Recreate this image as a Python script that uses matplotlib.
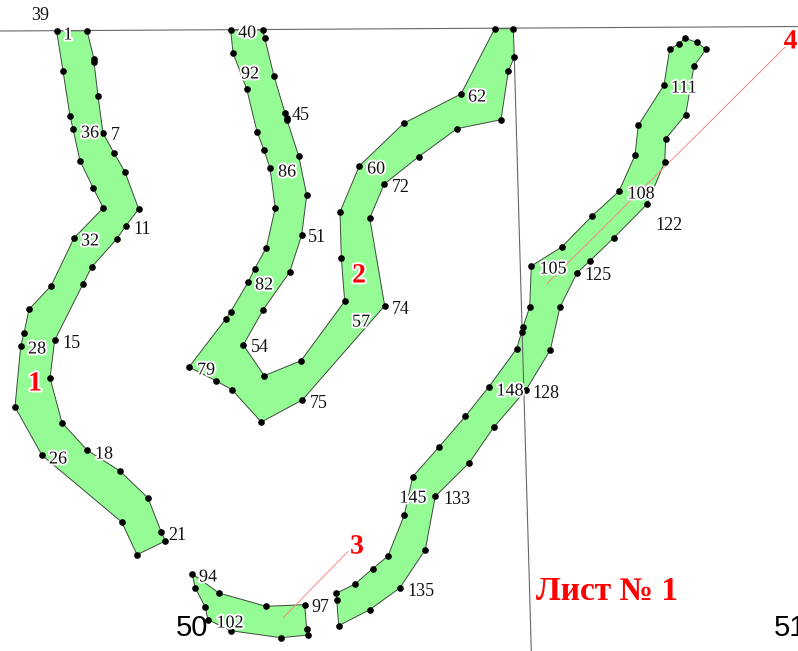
#!/usr/bin/env python3
"""Cadastral sheet no. 1: four green plots with numbered boundary points."""

import matplotlib
matplotlib.use("Agg")
import matplotlib.pyplot as plt
import matplotlib.patheffects as pe

# vertices in sheet coordinates
plot1 = [(56.5, 30.7), (87, 30.7), (94, 59), (94, 62), (98, 96), (103, 133), (114, 153),
         (125, 172), (138.7, 209), (125.7, 226), (116.7, 239), (91.7, 267), (83, 284),
         (54.7, 340.3), (50, 378), (62, 422.7), (87.3, 450.3), (120, 471), (148, 498),
         (161.3, 532), (165.3, 541), (137, 554.7), (121.7, 522), (42, 455.3), (15, 407),
         (20.7, 346), (24, 333.3), (29, 309.3), (51, 286), (74, 238), (103.3, 208),
         (93, 187.7), (80, 160.7), (73, 129), (70, 116), (63, 71)]
plot2 = [(230.7, 30), (262.7, 30), (264.7, 38), (274, 76), (285, 113), (287, 118), (287, 120),
         (298.7, 156), (306.7, 195), (301.7, 235), (289.7, 272), (263, 310), (243.3, 345),
         (264.3, 375.7), (301, 360.7), (344.7, 301.3), (341.3, 257.7), (340, 212),
         (359.3, 166), (403.7, 123.3), (461, 94), (494.7, 28.7), (513.3, 28.7),
         (514.3, 57.3), (508.3, 71), (501, 119.7), (457, 128.7), (418.7, 156.7),
         (384.3, 184), (369.7, 218), (384.7, 305.7), (302.3, 400), (261.3, 422),
         (232, 389.7), (216.3, 381), (189, 367), (226, 318.7), (230.7, 311.7), (248, 282.3),
         (254.7, 268.7), (266.3, 247.7), (275.3, 208), (270, 168), (264, 150), (257, 131.7),
         (246.7, 89), (233, 53)]
plot3 = [(192, 573.7), (195.3, 588), (205, 606.7), (208, 619.7), (230.7, 630.7), (281, 637.7),
         (308, 635), (306.7, 629), (304.7, 604.7), (266, 606.3), (219, 593)]
plot4 = [(338.7, 625.7), (336.7, 600), (336.3, 593.3), (355, 584), (372.7, 568.7), (388, 556),
         (404.3, 515), (412.7, 476.7), (438.7, 447.3), (465.3, 416.3), (488.7, 387),
         (516.7, 348.7), (521.7, 331.7), (523, 327), (529.7, 307), (531.3, 266),
         (561.7, 247), (592, 216), (619, 191.3), (635, 155.3), (638.3, 125.3), (664, 85),
         (669.7, 49), (679, 43.7), (685, 38.3), (696.7, 42.3), (706, 49.3), (694, 66),
         (685.7, 114.7), (665.7, 138.7), (664.7, 162), (647.3, 204), (613.7, 238),
         (589.7, 261), (577, 273), (560, 307), (550.3, 350), (526, 390), (493.7, 427.3),
         (469.3, 462.7), (435.3, 496.3), (425.3, 549.7), (399.7, 588), (369.7, 609.7)]
plots = [plot1, plot2, plot3, plot4]

# sheet boundaries and the leader lines to the plot numbers
sheet_top = [(0, 31), (798, 26.5)]
sheet_right = [(514.3, 57.3), (531.3, 651)]
leader3 = [(283.3, 617.7), (347.7, 551.7)]
leader4 = [(547, 283.7), (785, 47.3)]

# point numbers lying on the green get a white halo
halo_labels = [("1", 68, 35), ("36", 90, 133), ("32", 90, 241), ("28", 37, 349), ("26", 58, 459),
               ("18", 104, 454), ("40", 247, 33), ("92", 250, 74), ("86", 287, 172),
               ("82", 264, 285), ("79", 206, 370), ("57", 361, 322), ("60", 376, 169),
               ("62", 477, 97), ("111", 684, 88), ("108", 641, 194), ("105", 553, 269),
               ("148", 510, 391), ("145", 413, 498), ("94", 208, 577), ("102", 230, 623)]
plain_labels = [("39", 40, 15), ("7", 115, 135), ("11", 142, 229), ("15", 71, 343), ("21", 177, 535),
                ("45", 301, 116), ("51", 317, 238), ("54", 260, 348), ("75", 319, 403),
                ("74", 401, 309), ("72", 401, 187), ("122", 669, 225), ("125", 598, 276),
                ("128", 546, 394), ("133", 457, 499), ("135", 421, 591), ("97", 320, 608)]
plot_numbers = [("1", 35, 384), ("2", 359, 276), ("3", 357, 547), ("4", 790.5, 42)]
sheet_title = "Лист № 1"
grid_labels = [("50", 192, 628), ("51", 790, 628)]

SERIF = "Liberation Serif"
GREEN = "#95fb95"
RED = "#ff0000"

fig = plt.figure(figsize=(7.98, 6.51), dpi=100)
ax = fig.add_axes([0, 0, 1, 1])
ax.set_xlim(0, 798)
ax.set_ylim(651, 0)
ax.axis("off")

for pts in plots:
    ax.fill(*zip(*pts), facecolor=GREEN, edgecolor="#3c4a3c", linewidth=0.7, zorder=1)

for line in (sheet_top, sheet_right):
    ax.plot(*zip(*line), color="#666666", linewidth=0.8, zorder=2)
for line in (leader3, leader4):
    ax.plot(*zip(*line), color="#f88a8a", linewidth=0.7, zorder=2)

for pts in plots:
    ax.plot(*zip(*pts), linestyle="none", marker="o", markersize=4.8, color="black",
            markeredgewidth=0, zorder=3)

halo = [pe.withStroke(linewidth=2.8, foreground="white")]
for text, x, y in halo_labels:
    ax.text(x, y, text, family=SERIF, fontsize=13, color="#111111", ha="center", va="center",
            path_effects=halo, zorder=4)
for text, x, y in plain_labels:
    ax.text(x, y, text, family=SERIF, fontsize=13, color="#111111", ha="center", va="center", zorder=4)

for text, x, y in plot_numbers:
    ax.text(x, y, text, family=SERIF, fontsize=20, fontweight="bold", color=RED, ha="center",
            va="center", path_effects=halo, zorder=4)
ax.text(607, 592, sheet_title, family=SERIF, fontsize=24, fontweight="bold", color=RED,
        ha="center", va="center", zorder=4)

for text, x, y in grid_labels:
    ax.text(x, y, text, family="Liberation Sans", fontsize=21, color="black", ha="center",
            va="center", zorder=5)

fig.savefig("out.png", dpi=100)
